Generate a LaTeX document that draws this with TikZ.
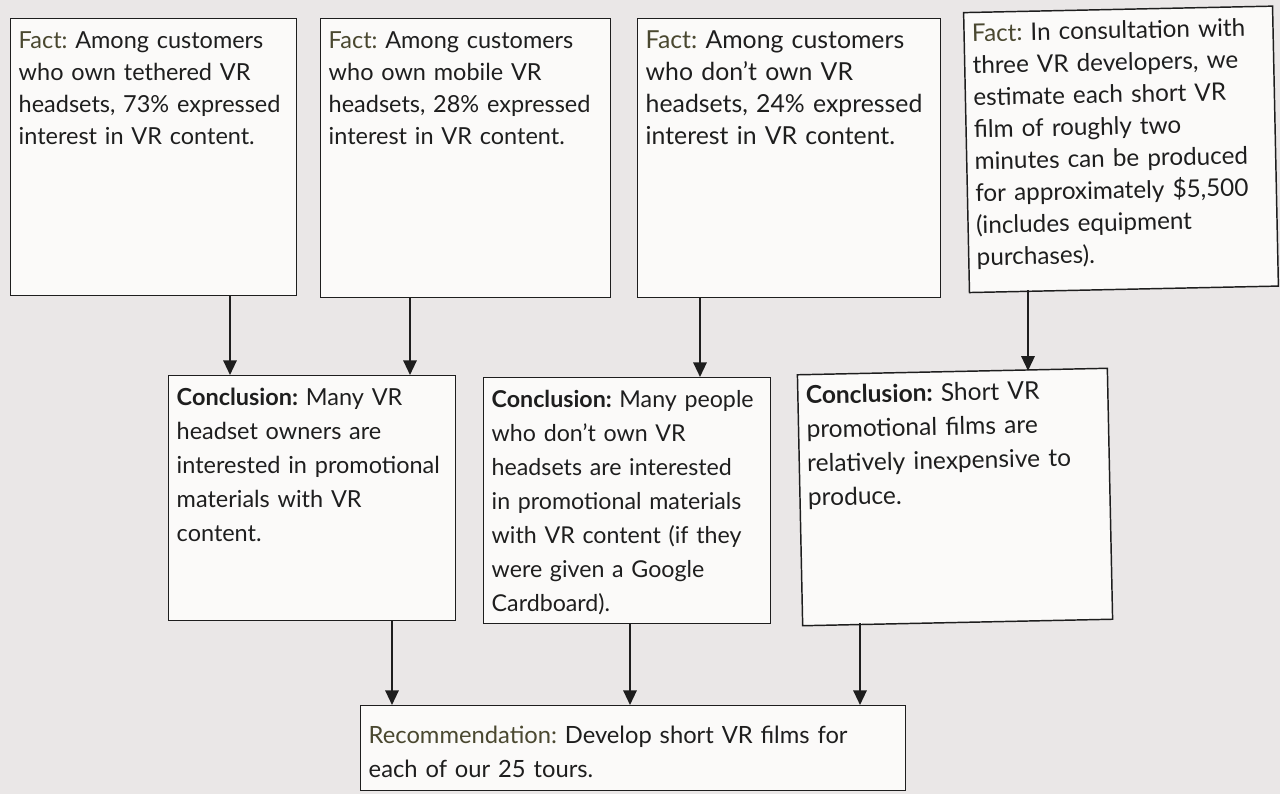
\documentclass[tikz,border=0pt]{standalone}
\usepackage{fontspec}
\setmainfont{Lato}
\usepackage{xcolor}
\definecolor{paper}{HTML}{EAE7E7}
\definecolor{boxfill}{HTML}{FBFAF9}
\definecolor{ink}{HTML}{1E1E1E}
\definecolor{factlabel}{HTML}{4A4830}
\usepackage{tikz}
\usetikzlibrary{arrows.meta}
\frenchspacing
\hyphenpenalty=10000

\tikzset{
  infobox/.style={draw=ink, fill=boxfill, line width=1.1pt, align=left, inner xsep=6pt, inner ysep=8pt, text height=14pt, text=ink},
  factfont/.style={font=\fontsize{#1}{24}\selectfont},
  concfont/.style={font=\fontsize{#1}{25.5}\selectfont},
  arr/.style={draw=ink, line width=1.6pt, -{Triangle[length=11pt,width=10pt]}}
}
\newcommand{\factlab}{{\color{factlabel}Fact:}}
\newcommand{\conclab}{\textbf{Conclusion:}}

\begin{document}
\begin{tikzpicture}
  \fill[paper] (0,0) rectangle (960pt,-595.5pt);
  \useasboundingbox (0,0) rectangle (960pt,-595.5pt);

  % facts
  \node[infobox, factfont=17.6, anchor=north west, text width=202.5pt, text depth=177.75pt] (f1) at (7.5pt,-13.5pt)
    {\factlab{} Among customers\\ who own tethered VR\\ headsets, 73\% expressed\\ interest in VR content.};
  \node[infobox, factfont=17.6, anchor=north west, text width=205.5pt, text depth=179.25pt] (f2) at (240pt,-13.5pt)
    {\factlab{} Among customers\\ who own mobile VR\\ headsets, 28\% expressed\\ interest in VR content.};
  \node[infobox, factfont=18.6, anchor=north west, text width=215.25pt, text depth=179.25pt] (f3) at (477.75pt,-13.5pt)
    {\factlab{} Among customers\\ who don't own VR\\ headsets, 24\% expressed\\ interest in VR content.};
  \node[infobox, factfont=18.2, rotate=1.2, text width=219.75pt, text depth=180pt] (f4) at (840.75pt,-112pt)
    {\factlab{} In consultation with\\ three VR developers, we\\ estimate each short VR\\ film of roughly two\\ minutes can be produced\\ for approximately \$5,500\\ (includes equipment\\ purchases).};

  % conclusions
  \node[infobox, concfont=17.6, anchor=north west, text width=203.25pt, text depth=153.75pt] (c1) at (126pt,-281.25pt)
    {\conclab{} Many VR\\ headset owners are\\ interested in promotional\\ materials with VR\\ content.};
  \node[infobox, concfont=17.4, anchor=north west, text width=203.25pt, text depth=154.5pt] (c2) at (362.25pt,-282.75pt)
    {\conclab{} Many people\\ who don't own VR\\ headsets are interested\\ in promotional materials\\ with VR content (if they\\ were given a Google\\ Cardboard).};
  \node[infobox, concfont=18.4, rotate=1.2, text width=220.5pt, text depth=158.25pt] (c3) at (716.25pt,-372.75pt)
    {\conclab{} Short VR\\ promotional films are\\ relatively inexpensive to\\ produce.};

  % recommendation
  \node[infobox, concfont=17.8, anchor=north west, text width=396.75pt, text height=20pt, text depth=27.75pt] (rec) at (270pt,-528.75pt)
    {{\color{factlabel}Recommendation:} Develop short VR films for\\ each of our 25 tours.};

  \foreach \from/\to/\xpos in {f1/c1/172.5, f2/c1/307.5, f3/c2/525, f4/c3/771, c1/rec/294, c2/rec/472.5, c3/rec/645} {
    \coordinate (ax) at (\xpos pt,0);
    \draw[arr] (\from.south -| ax) -- (\to.north -| ax);
  }
\end{tikzpicture}
\end{document}
